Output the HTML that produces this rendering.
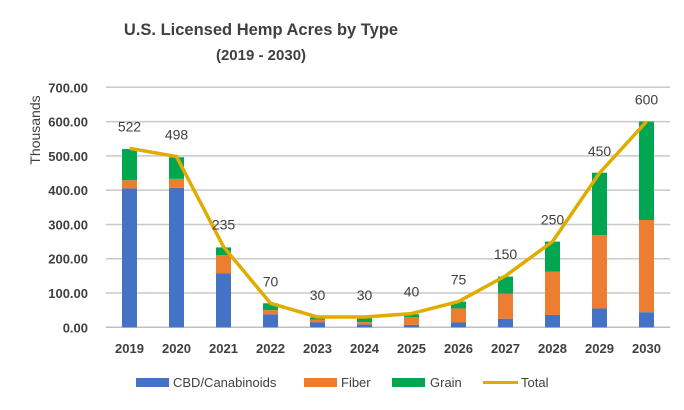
<!DOCTYPE html>
<html><head><meta charset="utf-8"><style>
body{margin:0;background:#fff;}
svg text{font-family:"Liberation Sans",sans-serif;}
</style></head><body>
<svg id="chart" width="684" height="405" xmlns="http://www.w3.org/2000/svg">
<text x="261" y="35" text-anchor="middle" font-size="16.5" font-weight="bold" fill="#404040">U.S. Licensed Hemp Acres by Type</text>
<text x="261" y="60" text-anchor="middle" font-size="15" font-weight="bold" fill="#404040">(2019 - 2030)</text>
<text transform="translate(40,130) rotate(-90)" text-anchor="middle" font-size="14" fill="#404040">Thousands</text>
<g id="grid"></g><g id="bars"></g><g id="line"></g><g id="labels"></g>
<g>
<rect x="136" y="378" width="33" height="9" fill="#4472c4"/>
<text x="173" y="387" font-size="13" fill="#404040">CBD/Canabinoids</text>
<rect x="304" y="378" width="33" height="9" fill="#ed7d31"/>
<text x="341" y="387" font-size="13" fill="#404040">Fiber</text>
<rect x="392" y="378" width="33" height="9" fill="#00a650"/>
<text x="430" y="387" font-size="13" fill="#404040">Grain</text>
<line x1="483" y1="382.5" x2="518" y2="382.5" stroke="#e0ac00" stroke-width="3"/>
<text x="521" y="387" font-size="13" fill="#404040">Total</text>
</g>
</svg>
<script>
const years=["2019","2020","2021","2022","2023","2024","2025","2026","2027","2028","2029","2030"];
const cbd=[405,407,157,38,15,8,7,14,25,36,55,44];
const fiber=[24,26,53,12,7,7,23,41,73,126,214,269];
const grain=[91,63,23,20,7,13,8,20,50,88,182,287];
const total=[522,498,235,70,30,30,40,75,150,250,450,600];
const yTicks=[0,100,200,300,400,500,600,700];
const yTickLabels=["0.00","100.00","200.00","300.00","400.00","500.00","600.00","700.00"];
const NS="http://www.w3.org/2000/svg";
const L=106,R=670,Y0=327.3,Y1=87.3,YMAX=700;
const band=(R-L)/years.length;
const x=i=>L+band*(i+0.5);
const y=v=>Y0-(v/YMAX)*(Y0-Y1);
function mk(tag,at,parent){const e=document.createElementNS(NS,tag);for(const k in at)e.setAttribute(k,at[k]);document.getElementById(parent).appendChild(e);return e;}
yTicks.forEach((t,i)=>{
 const g=mk('line',{x1:L,x2:R,y1:y(t),y2:y(t),stroke:t===0?'#bfbfbf':'#c8c8c8','stroke-width':1.5},'grid');
 
 
 const tx=mk('text',{x:88,y:y(t)+5,'text-anchor':'end','font-size':13,'font-weight':'bold',fill:'#404040'},'grid');
 tx.textContent=yTickLabels[i];
 
 
});
const series=[[cbd,'#4472c4','bar-cbd'],[fiber,'#ed7d31','bar-fiber'],[grain,'#00a650','bar-grain']];
years.forEach((yr,i)=>{
 let base=0;
 series.forEach(([arr,col,nm])=>{
  const r=mk('rect',{x:x(i)-7.5,width:15,y:y(base+arr[i]),height:y(base)-y(base+arr[i]),fill:col},'bars');
  
  
  base+=arr[i];
 });
 const t=mk('text',{x:x(i),y:353,'text-anchor':'middle','font-size':13,'font-weight':'bold',fill:'#404040'},'labels');
 t.textContent=yr;
 
 
 const v=mk('text',{x:x(i),y:y(total[i])-17,'text-anchor':'middle','font-size':14,fill:'#404040'},'labels');
 v.textContent=total[i];
 
 
});
const p=mk('polyline',{points:total.map((v,i)=>x(i)+','+y(v)).join(' '),fill:'none',stroke:'#e0ac00','stroke-width':3.5,'stroke-linejoin':'round'},'line');


</script>
</body></html>
